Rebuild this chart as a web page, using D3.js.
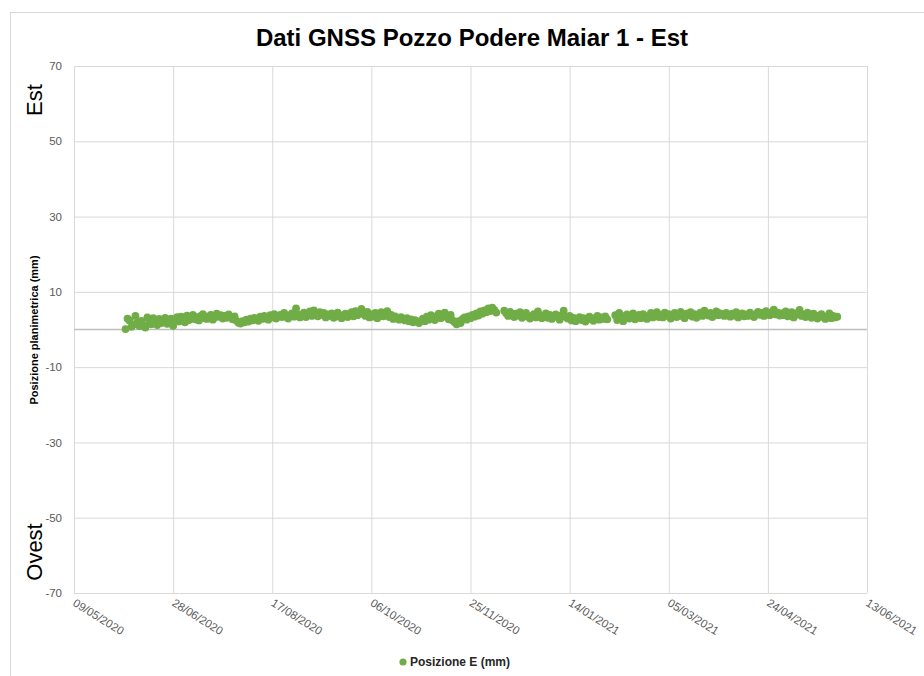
<!DOCTYPE html>
<html>
<head>
    <meta charset="utf-8">
    <style>
        body { margin: 0; background: #fff; }
        text { font-family: "Liberation Sans", Arial, sans-serif; }
        .title { font-size: 24px; font-weight: bold; fill: #000; }
        .grid line { stroke: #d9d9d9; }
        .grid path { display: none; }
    </style>
    <script src="https://d3js.org/d3.v7.min.js"></script>
</head>
<body>
    <script>
        // daily E position (mm), first value = 04/06/2020; null = no data
        var jun2020 = [0.1, 2.9, 2.4, 0.7, 1.3, 3.6, 1.9, 0.9, 2.3, 1.1, 0.5, 3.2, 2.0, 1.4, 3.0, 2.6, 1.2, 2.8, 1.7, 2.2, 3.1, 1.5, 2.4, 2.9, 1.0, 2.6, 3.3];
        var jul2020 = [2.1, 3.4, 2.8, 1.9, 3.7, 2.5, 3.0, 3.9, 2.7, 3.3, 2.4, 3.6, 4.1, 3.0, 2.8, 3.5, 3.9, 2.6, 3.2, 4.2, 3.4, 3.8, 2.9, 3.6, 3.1, 4.0, 3.3, 2.7, 3.5, 2.3, 1.8];
        var aug2020 = [1.6, 2.2, 1.9, 2.6, 2.1, 2.9, 2.4, 3.1, 2.7, 2.3, 3.4, 2.8, 3.6, 3.0, 2.6, 3.8, 3.2, 4.1, 2.9, 3.5, 3.9, 3.3, 4.4, 3.6, 2.9, 3.8, 4.3, 3.4, 5.6, 4.0, 3.2];
        var sep2020 = [3.7, 4.5, 3.3, 4.0, 4.8, 3.6, 5.1, 4.2, 3.5, 4.6, 3.9, 4.4, 3.2, 4.0, 3.6, 4.3, 3.1, 3.8, 4.5, 3.4, 3.0, 3.9, 4.2, 3.3, 3.7, 4.6, 3.5, 4.9, 3.8, 4.4];
        var oct2020 = [5.5, 4.1, 3.6, 4.7, 3.2, 4.0, 3.4, 4.4, 3.0, 3.8, 4.6, 3.5, 4.2, 4.9, 3.3, 3.9, 2.8, 3.5, 3.1, 2.6, 3.3, 2.9, 2.4, 3.0, 2.2, 2.7, 1.9, 2.5, 2.1, 1.7, 2.3];
        var nov2020 = [2.9, 2.2, 3.4, 2.6, 3.8, 3.1, 2.5, 3.6, 4.2, 3.0, 3.7, 4.5, 3.3, 2.7, 3.9, 2.4, 1.9, 1.4, 2.2, 1.7, 2.8, 3.2, 2.6, 3.5, 3.0, 3.9, 3.4, 4.3, 3.7, 4.8];
        var dec2020 = [4.2, 5.1, 4.6, 5.6, 4.9, 5.8, 5.2, 4.5, null, null, null, 5.0, 4.3, 3.6, 4.7, 3.9, 3.3, 4.2, 3.7, 4.6, 3.1, 3.8, 4.4, 3.4, 2.9, 3.6, 4.1, 3.2, 4.8, 3.5, 3.0];
        var jan2021 = [3.7, 4.3, 3.1, 3.9, 2.8, 3.5, 4.0, 3.3, 2.6, 3.8, 5.0, 3.4, 2.9, 3.6, 2.4, 3.1, 2.2, 2.8, 3.3, 2.5, 3.0, 2.1, 2.7, 3.4, 2.9, 2.3, 3.1, 3.6, 2.6, 3.2, 2.8];
        var feb2021 = [3.5, 2.7, null, null, null, 3.8, 2.5, 4.4, 3.1, 2.2, 3.6, 4.0, 2.9, 3.3, 4.3, 2.7, 3.5, 3.9, 3.0, 4.1, 3.4, 2.8, 3.7, 4.4, 3.2, 3.8, 4.6, 3.3];
        var mar2021 = [3.9, 3.2, 4.5, 3.6, 4.1, 2.9, 3.7, 4.4, 3.3, 4.0, 4.7, 3.5, 3.0, 4.2, 3.8, 4.6, 3.4, 4.1, 3.1, 3.9, 4.5, 3.6, 5.0, 4.2, 3.7, 4.4, 3.3, 4.0, 4.8, 3.8, 4.3];
        var apr2021 = [4.1, 3.6, 4.4, 3.9, 3.4, 4.2, 3.7, 4.6, 3.2, 3.9, 4.3, 3.5, 4.0, 3.6, 4.5, 3.8, 3.3, 4.1, 4.7, 3.9, 4.4, 3.6, 4.9, 4.2, 3.8, 4.6, 5.3, 4.0, 4.5, 3.7];
        var may2021 = [4.3, 3.8, 4.8, 3.5, 4.1, 4.6, 3.2, 3.9, 4.4, 5.2, 3.6, 4.0, 3.3, 4.5, 3.8, 3.1, 4.2, 3.6, 2.9, 3.7, 4.1, 3.3, 2.8, 3.5, 4.3, 3.0, 3.6, 3.2, 3.4];

        var firstDay = "04/06/2020";
        var xTickLabels = ["09/05/2020", "28/06/2020", "17/08/2020", "06/10/2020", "25/11/2020",
                           "14/01/2021", "05/03/2021", "24/04/2021", "13/06/2021"];
        var yTicks = [70, 50, 30, 10, -10, -30, -50, -70];

        var parse = d3.timeParse("%d/%m/%Y");
        var fmt = d3.timeFormat("%d/%m/%Y");
        var values = [].concat(jun2020, jul2020, aug2020, sep2020, oct2020, nov2020,
                               dec2020, jan2021, feb2021, mar2021, apr2021, may2021);
        var start = parse(firstDay);
        var data = values.map(function(v, i) {
            return { date: d3.timeDay.offset(start, i), value: v };
        }).filter(function(d) { return d.value !== null; });

        var width = 924, height = 676;
        var plotLeft = 74, plotRight = 867, plotTop = 66, plotBottom = 593;

        var svg = d3.select("body").append("svg")
            .attr("width", width).attr("height", height);

        svg.append("rect")
           .attr("x", 10.5).attr("y", 12.5)
           .attr("width", width).attr("height", height)
           .attr("fill", "#fff").attr("stroke", "#d9d9d9");

        var tickDates = xTickLabels.map(parse);
        var x = d3.scaleTime()
                  .domain([tickDates[0], tickDates[tickDates.length - 1]])
                  .range([plotLeft, plotRight]);
        var y = d3.scaleLinear().domain([-70, 70]).range([plotBottom, plotTop]);

        // horizontal gridlines + y labels
        svg.append("g")
           .attr("class", "grid")
           .attr("transform", "translate(" + plotLeft + ",0)")
           .call(d3.axisLeft(y).tickValues(yTicks).tickSize(-(plotRight - plotLeft)).tickPadding(12)
                   .tickFormat(function(d) { return String(d); }))
           .call(function(g) {
               g.selectAll(".tick text")
                .attr("x", -12)
                .attr("font-family", "'Liberation Sans', Arial, sans-serif")
                .attr("font-size", 11.5)
                .attr("fill", "#595959");
           });

        // vertical gridlines
        svg.append("g")
           .attr("class", "grid")
           .attr("transform", "translate(0," + plotBottom + ")")
           .call(d3.axisBottom(x).tickValues(tickDates).tickSize(plotTop - plotBottom).tickFormat(""));

        // x labels, rotated
        svg.append("g")
           .selectAll("text")
           .data(tickDates)
           .enter().append("text")
           .attr("transform", function(d) { return "translate(" + (x(d) - 2) + "," + (plotBottom + 12) + ") rotate(32)"; })
           .attr("font-size", 11.5)
           .attr("fill", "#595959")
           .text(function(d) { return fmt(d); });

        // zero line
        svg.append("line")
           .attr("x1", plotLeft).attr("x2", plotRight)
           .attr("y1", y(0)).attr("y2", y(0))
           .attr("stroke", "#bfbfbf").attr("stroke-width", 1.3);

        svg.append("g")
           .selectAll("circle")
           .data(data)
           .enter().append("circle")
           .attr("cx", function(d) { return x(d.date); })
           .attr("cy", function(d) { return y(d.value); })
           .attr("r", 3.9)
           .attr("fill", "#70ad47");

        svg.append("text")
           .attr("class", "title")
           .attr("x", 472).attr("y", 46)
           .attr("text-anchor", "middle")
           .text("Dati GNSS Pozzo Podere Maiar 1 - Est");

        svg.append("text")
           .attr("transform", "translate(42,100) rotate(-90)")
           .attr("text-anchor", "middle")
           .attr("font-size", 22)
           .attr("fill", "#000")
           .text("Est");

        svg.append("text")
           .attr("transform", "translate(42,552) rotate(-90)")
           .attr("text-anchor", "middle")
           .attr("font-size", 22)
           .attr("fill", "#000")
           .text("Ovest");

        svg.append("text")
           .attr("transform", "translate(38,330) rotate(-90)")
           .attr("text-anchor", "middle")
           .attr("font-size", 11)
           .attr("font-weight", "bold")
           .attr("fill", "#000")
           .text("Posizione planimetrica (mm)");

        var legend = svg.append("g").attr("transform", "translate(403,662)");
        legend.append("circle").attr("r", 3.6).attr("fill", "#70ad47");
        legend.append("text")
              .attr("x", 7).attr("y", 4)
              .attr("font-size", 12)
              .attr("font-weight", "bold")
              .attr("fill", "#262626")
              .text("Posizione E (mm)");
    </script>
</body>
</html>
